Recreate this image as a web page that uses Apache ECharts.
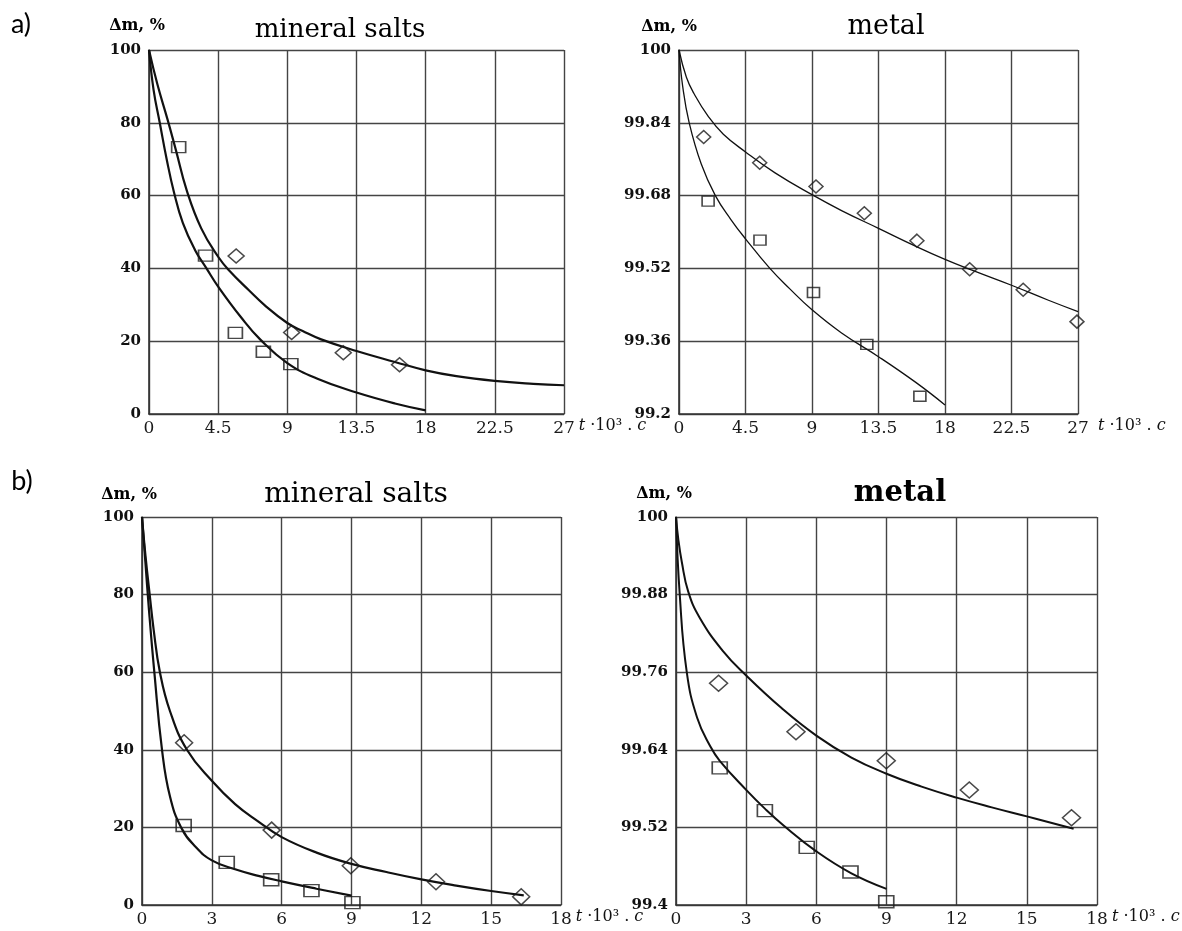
<!DOCTYPE html>
<html>
<head>
<meta charset="utf-8">
<title>mass loss</title>
<script src="https://cdn.jsdelivr.net/npm/echarts@6/dist/echarts.min.js"></script>
<style>
html, body {margin: 0; padding: 0; background: #fff;}
#chart {width: 1182px; height: 931px;}
</style>
</head>
<body>
<div id="chart"></div>
<script>
// a) mineral salts  [t*10^3 s, dm %]
var aSaltSquares = [[1.93, 73.3], [3.68, 43.5], [5.62, 22.3], [7.44, 17.1], [9.23, 13.7]];
var aSaltDiamonds = [[5.67, 43.4], [9.28, 22.4], [12.64, 16.8], [16.3, 13.5]];
var aSaltLow = [[0, 100], [0.3, 89], [0.7, 80], [1.15, 70], [1.62, 61], [2.2, 52.5], [3, 45], [3.74, 40], [4.5, 35],
	[6, 26.5], [7.23, 20.5], [9, 14], [11, 9.6], [13.5, 5.9], [16, 2.9], [18, 1.0]];
var aSaltHigh = [[0, 100], [0.55, 90.5], [1.2, 81], [1.75, 72.5], [2.45, 61.5], [3.4, 51], [4.5, 43.2], [5.2, 39.5], [6.5, 34],
	[7.5, 30], [9, 25], [10, 22.8], [11.2, 20.5], [13.5, 17.3], [16, 14.3], [18, 12], [20, 10.4], [22.5, 9.1], [25, 8.3], [27, 7.9]];

// a) metal
var aMetalSquares = [[1.97, 99.668], [5.48, 99.582], [9.1, 99.467], [12.71, 99.353], [16.3, 99.239]];
var aMetalDiamonds = [[1.67, 99.809], [5.46, 99.752], [9.27, 99.700], [12.54, 99.641], [16.1, 99.581],
	[19.67, 99.518], [23.29, 99.473], [26.93, 99.403]];
var aMetalLow = [[0, 100], [0.25, 99.92], [0.69, 99.84], [1.5, 99.75], [2.46, 99.68], [3.5, 99.628], [4.5, 99.585],
	[6.15, 99.52], [7.5, 99.475], [9, 99.429], [11, 99.378], [13.5, 99.326], [16, 99.27], [18, 99.22]];
var aMetalHigh = [[0, 100], [0.5, 99.94], [1, 99.905], [2, 99.853], [3, 99.815], [4.5, 99.776], [6.5, 99.73],
	[9, 99.682], [11, 99.647], [13.5, 99.608], [16, 99.569], [18, 99.54], [20, 99.514], [22.5, 99.483], [25, 99.45], [27, 99.425]];

// b) mineral salts
var bSaltSquares = [[1.79, 20.5], [3.64, 11.0], [5.55, 6.5], [7.28, 3.7], [9.04, 0.6]];
var bSaltDiamonds = [[1.81, 41.8], [5.57, 19.3], [8.97, 10.1], [12.63, 6.0], [16.29, 2.1]];
var bSaltLow = [[0, 100], [0.15, 88], [0.3, 76], [0.53, 60], [0.86, 40], [1.2, 28], [1.68, 20], [2.3, 15], [3, 11.5],
	[4, 9.2], [5, 7.5], [6, 6.1], [7.5, 4.2], [9, 2.4]];
var bSaltHigh = [[0, 100], [0.15, 90], [0.33, 80], [0.5, 71], [0.77, 60], [1.2, 50], [1.93, 40], [3, 32], [4, 26],
	[5, 21.5], [6, 17.5], [7.5, 13.5], [9, 10.6], [10.5, 8.5], [12, 6.6], [13.5, 5], [15, 3.6], [16.4, 2.5]];

// b) metal
var bMetalSquares = [[1.87, 99.612], [3.8, 99.546], [5.59, 99.489], [7.46, 99.451], [8.99, 99.405]];
var bMetalDiamonds = [[1.82, 99.743], [5.13, 99.668], [8.99, 99.623], [12.54, 99.578], [16.91, 99.535]];
var bMetalLow = [[0, 100], [0.16, 99.88], [0.46, 99.76], [0.9, 99.69], [1.47, 99.645], [1.87, 99.623], [3, 99.578],
	[3.8, 99.549], [4.6, 99.523], [6, 99.483], [7.5, 99.449], [9, 99.425]];
var bMetalHigh = [[0, 100], [0.1, 99.965], [0.25, 99.93], [0.52, 99.885], [1, 99.845], [2, 99.793], [3, 99.755],
	[4.5, 99.705], [6, 99.662], [7.5, 99.628], [9, 99.603], [10.5, 99.583], [12, 99.566], [13.5, 99.551], [15, 99.537], [17, 99.518]];

// axis ranges: [xmax, xstep, ymin, ymax, ystep]
var aSaltAxis = [27, 4.5, 0, 100, 20];
var aMetalAxis = [27, 4.5, 99.2, 100, 0.16];
var bSaltAxis = [18, 3, 0, 100, 20];
var bMetalAxis = [18, 3, 99.4, 100, 0.12];

var myChart = echarts.init(document.getElementById('chart'));
var serif = 'DejaVu Serif';

var grids = [
	{left: 149, top: 50, width: 415, height: 364},
	{left: 679, top: 50, width: 399, height: 364},
	{left: 142, top: 517, width: 419, height: 388},
	{left: 676, top: 517, width: 421, height: 388}
];
var axes = [aSaltAxis, aMetalAxis, bSaltAxis, bMetalAxis];
var nameGaps = [13, 20, 8, 15];

var xAxes = [], yAxes = [];
axes.forEach(function (ax, i) {
	xAxes.push({
		type: 'value', gridIndex: i, min: 0, max: ax[0], interval: ax[1],
		name: '{i|t} ·10³ . {i|c}', nameLocation: 'end', nameGap: nameGaps[i],
		nameTextStyle: {
			fontFamily: serif, fontSize: 16, color: '#111', verticalAlign: 'top', padding: [4, 0, 0, 0],
			rich: {i: {fontFamily: serif, fontStyle: 'italic', fontSize: 16, color: '#111'}}
		},
		axisLine: {show: true, lineStyle: {color: '#333', width: 1.6}},
		axisTick: {show: false},
		axisLabel: {margin: 6, fontFamily: serif, fontSize: 17, color: '#1a1a1a'},
		splitLine: {show: true, lineStyle: {color: '#444', width: 1.4}}
	});
	yAxes.push({
		type: 'value', gridIndex: i, min: ax[2], max: ax[3], interval: ax[4],
		axisLine: {show: true, lineStyle: {color: '#333', width: 1.6}},
		axisTick: {show: false},
		axisLabel: {margin: 8, fontFamily: serif, fontSize: 15, fontWeight: 'bold', color: '#111'},
		splitLine: {show: true, lineStyle: {color: '#444', width: 1.4}}
	});
});

function curve(data, i, w) { // fitted line
	return {
		type: 'line', xAxisIndex: i, yAxisIndex: i, data: data, showSymbol: false,
		smooth: 0.45, silent: true,
		lineStyle: {color: '#111', width: w}, z: 3
	};
}
function marks(data, i, symbol, size) { // measured points
	return {
		type: 'scatter', xAxisIndex: i, yAxisIndex: i, data: data, symbol: symbol, symbolSize: size,
		itemStyle: {color: 'rgba(255,255,255,0)', borderColor: '#1a1a1a', borderWidth: 1.5}, z: 4
	};
}

var series = [
	curve(aSaltLow, 0, 2.2), curve(aSaltHigh, 0, 2.2),
	marks(aSaltSquares, 0, 'rect', [14, 11]), marks(aSaltDiamonds, 0, 'diamond', [16, 14]),
	curve(aMetalLow, 1, 1.3), curve(aMetalHigh, 1, 1.3),
	marks(aMetalSquares, 1, 'rect', [12, 10]), marks(aMetalDiamonds, 1, 'diamond', [14, 13]),
	curve(bSaltLow, 2, 2.2), curve(bSaltHigh, 2, 2.2),
	marks(bSaltSquares, 2, 'rect', [15, 12]), marks(bSaltDiamonds, 2, 'diamond', [17, 16]),
	curve(bMetalLow, 3, 2), curve(bMetalHigh, 3, 2),
	marks(bMetalSquares, 3, 'rect', [15, 12]), marks(bMetalDiamonds, 3, 'diamond', [18, 16])
];

function label(txt, x, y, size, weight, family) {
	return {
		type: 'text', x: x, y: y, silent: true,
		style: {
			text: txt, fill: '#000', textAlign: 'center', textVerticalAlign: 'middle',
			fontSize: size, fontWeight: weight || 'normal', fontFamily: family || serif
		}
	};
}

var option = {
	backgroundColor: '#fff',
	animation: false,
	grid: grids,
	xAxis: xAxes,
	yAxis: yAxes,
	series: series,
	graphic: [
		label('a)', 21, 24, 27, 'normal', 'Lato'),
		label('b)', 22, 481, 27, 'normal', 'Lato'),
		label('mineral salts', 340, 30, 26),
		label('metal', 886, 27, 27),
		label('mineral salts', 356, 495, 28),
		label('metal', 900, 493, 29, 'bold'),
		label('Δm, %', 137, 26, 16, 'bold'),
		label('Δm, %', 669, 27, 16, 'bold'),
		label('Δm, %', 129, 495, 16, 'bold'),
		label('Δm, %', 664, 494, 16, 'bold')
	]
};
myChart.setOption(option);
</script>
</body>
</html>
